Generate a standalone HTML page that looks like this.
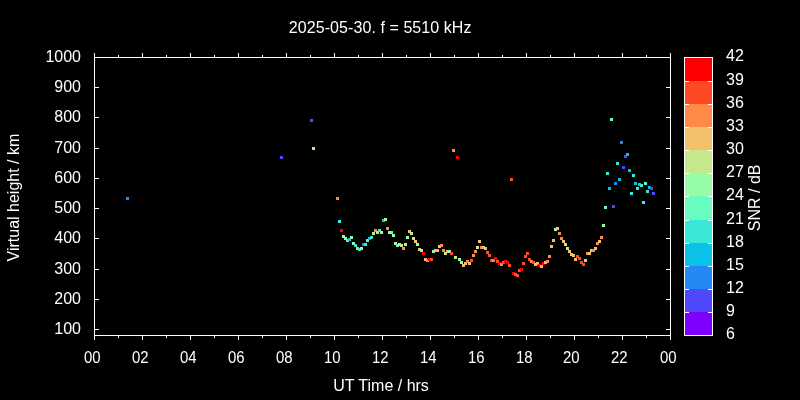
<!DOCTYPE html><html><head><meta charset="utf-8"><title>plot</title><style>html,body{margin:0;padding:0;background:#000;overflow:hidden}svg{display:block}text{font-family:"Liberation Sans",Arial,sans-serif;font-size:16px;fill:#fff}</style></head><body>
<svg width="800" height="400" viewBox="0 0 800 400">
<rect width="800" height="400" fill="#000"/>
<g fill="#fff" shape-rendering="crispEdges">
<rect x="94" y="57" width="577" height="1"/>
<rect x="94" y="335" width="577" height="1"/>
<rect x="94" y="57" width="1" height="279"/>
<rect x="670" y="57" width="1" height="279"/>
<rect x="94" y="53" width="1" height="4"/>
<rect x="94" y="336" width="1" height="4"/>
<rect x="118" y="55" width="1" height="2"/>
<rect x="118" y="336" width="1" height="2"/>
<rect x="142" y="53" width="1" height="4"/>
<rect x="142" y="336" width="1" height="4"/>
<rect x="166" y="55" width="1" height="2"/>
<rect x="166" y="336" width="1" height="2"/>
<rect x="190" y="53" width="1" height="4"/>
<rect x="190" y="336" width="1" height="4"/>
<rect x="214" y="55" width="1" height="2"/>
<rect x="214" y="336" width="1" height="2"/>
<rect x="238" y="53" width="1" height="4"/>
<rect x="238" y="336" width="1" height="4"/>
<rect x="262" y="55" width="1" height="2"/>
<rect x="262" y="336" width="1" height="2"/>
<rect x="286" y="53" width="1" height="4"/>
<rect x="286" y="336" width="1" height="4"/>
<rect x="310" y="55" width="1" height="2"/>
<rect x="310" y="336" width="1" height="2"/>
<rect x="334" y="53" width="1" height="4"/>
<rect x="334" y="336" width="1" height="4"/>
<rect x="358" y="55" width="1" height="2"/>
<rect x="358" y="336" width="1" height="2"/>
<rect x="382" y="53" width="1" height="4"/>
<rect x="382" y="336" width="1" height="4"/>
<rect x="406" y="55" width="1" height="2"/>
<rect x="406" y="336" width="1" height="2"/>
<rect x="430" y="53" width="1" height="4"/>
<rect x="430" y="336" width="1" height="4"/>
<rect x="454" y="55" width="1" height="2"/>
<rect x="454" y="336" width="1" height="2"/>
<rect x="478" y="53" width="1" height="4"/>
<rect x="478" y="336" width="1" height="4"/>
<rect x="502" y="55" width="1" height="2"/>
<rect x="502" y="336" width="1" height="2"/>
<rect x="526" y="53" width="1" height="4"/>
<rect x="526" y="336" width="1" height="4"/>
<rect x="550" y="55" width="1" height="2"/>
<rect x="550" y="336" width="1" height="2"/>
<rect x="574" y="53" width="1" height="4"/>
<rect x="574" y="336" width="1" height="4"/>
<rect x="598" y="55" width="1" height="2"/>
<rect x="598" y="336" width="1" height="2"/>
<rect x="622" y="53" width="1" height="4"/>
<rect x="622" y="336" width="1" height="4"/>
<rect x="646" y="55" width="1" height="2"/>
<rect x="646" y="336" width="1" height="2"/>
<rect x="670" y="53" width="1" height="4"/>
<rect x="670" y="336" width="1" height="4"/>
<rect x="95" y="329" width="4" height="1"/>
<rect x="666" y="329" width="4" height="1"/>
<rect x="95" y="299" width="4" height="1"/>
<rect x="666" y="299" width="4" height="1"/>
<rect x="95" y="269" width="4" height="1"/>
<rect x="666" y="269" width="4" height="1"/>
<rect x="95" y="238" width="4" height="1"/>
<rect x="666" y="238" width="4" height="1"/>
<rect x="95" y="208" width="4" height="1"/>
<rect x="666" y="208" width="4" height="1"/>
<rect x="95" y="178" width="4" height="1"/>
<rect x="666" y="178" width="4" height="1"/>
<rect x="95" y="148" width="4" height="1"/>
<rect x="666" y="148" width="4" height="1"/>
<rect x="95" y="117" width="4" height="1"/>
<rect x="666" y="117" width="4" height="1"/>
<rect x="95" y="87" width="4" height="1"/>
<rect x="666" y="87" width="4" height="1"/>
<rect x="95" y="57" width="4" height="1"/>
<rect x="666" y="57" width="4" height="1"/>
</g>
<g shape-rendering="crispEdges">
<rect x="684" y="312" width="28" height="24" fill="#8000ff"/>
<rect x="684" y="289" width="28" height="23" fill="#5148fc"/>
<rect x="684" y="266" width="28" height="23" fill="#238af5"/>
<rect x="684" y="243" width="28" height="23" fill="#0cc1e8"/>
<rect x="684" y="220" width="28" height="23" fill="#3ae8d7"/>
<rect x="684" y="196" width="28" height="24" fill="#68fcc1"/>
<rect x="684" y="173" width="28" height="23" fill="#97fca7"/>
<rect x="684" y="150" width="28" height="23" fill="#c5e88a"/>
<rect x="684" y="127" width="28" height="23" fill="#f3c16a"/>
<rect x="684" y="104" width="28" height="23" fill="#ff8a48"/>
<rect x="684" y="81" width="28" height="23" fill="#ff4824"/>
<rect x="684" y="57" width="28" height="24" fill="#ff0000"/>
<g fill="#fff">
<rect x="684" y="57" width="29" height="1"/>
<rect x="684" y="335" width="29" height="1"/>
<rect x="684" y="57" width="1" height="279"/>
<rect x="712" y="57" width="1" height="279"/>
<rect x="685" y="81" width="4" height="1"/>
<rect x="708" y="81" width="4" height="1"/>
<rect x="685" y="104" width="4" height="1"/>
<rect x="708" y="104" width="4" height="1"/>
<rect x="685" y="127" width="4" height="1"/>
<rect x="708" y="127" width="4" height="1"/>
<rect x="685" y="150" width="4" height="1"/>
<rect x="708" y="150" width="4" height="1"/>
<rect x="685" y="173" width="4" height="1"/>
<rect x="708" y="173" width="4" height="1"/>
<rect x="685" y="196" width="4" height="1"/>
<rect x="708" y="196" width="4" height="1"/>
<rect x="685" y="220" width="4" height="1"/>
<rect x="708" y="220" width="4" height="1"/>
<rect x="685" y="243" width="4" height="1"/>
<rect x="708" y="243" width="4" height="1"/>
<rect x="685" y="266" width="4" height="1"/>
<rect x="708" y="266" width="4" height="1"/>
<rect x="685" y="289" width="4" height="1"/>
<rect x="708" y="289" width="4" height="1"/>
<rect x="685" y="312" width="4" height="1"/>
<rect x="708" y="312" width="4" height="1"/>
</g></g>
<g shape-rendering="crispEdges">
<rect x="126" y="197" width="3" height="3" fill="#238af5"/>
<rect x="280" y="156" width="3" height="3" fill="#5148fc"/>
<rect x="310" y="119" width="3" height="3" fill="#5148fc"/>
<rect x="312" y="147" width="3" height="3" fill="#c5e88a"/>
<rect x="336" y="197" width="3" height="3" fill="#ff8a48"/>
<rect x="338" y="220" width="3" height="3" fill="#3ae8d7"/>
<rect x="340" y="229" width="3" height="3" fill="#ff0000"/>
<rect x="342" y="235" width="3" height="3" fill="#97fca7"/>
<rect x="344" y="237" width="3" height="3" fill="#97fca7"/>
<rect x="346" y="239" width="3" height="3" fill="#f3c16a"/>
<rect x="348" y="238" width="3" height="3" fill="#0cc1e8"/>
<rect x="350" y="236" width="3" height="3" fill="#97fca7"/>
<rect x="352" y="242" width="3" height="3" fill="#97fca7"/>
<rect x="354" y="244" width="3" height="3" fill="#3ae8d7"/>
<rect x="356" y="247" width="3" height="3" fill="#f3c16a"/>
<rect x="358" y="248" width="3" height="3" fill="#3ae8d7"/>
<rect x="360" y="247" width="3" height="3" fill="#97fca7"/>
<rect x="362" y="243" width="3" height="3" fill="#238af5"/>
<rect x="364" y="243" width="3" height="3" fill="#3ae8d7"/>
<rect x="366" y="239" width="3" height="3" fill="#68fcc1"/>
<rect x="368" y="237" width="3" height="3" fill="#0cc1e8"/>
<rect x="370" y="236" width="3" height="3" fill="#3ae8d7"/>
<rect x="372" y="232" width="3" height="3" fill="#c5e88a"/>
<rect x="374" y="229" width="3" height="3" fill="#ff8a48"/>
<rect x="376" y="231" width="3" height="3" fill="#97fca7"/>
<rect x="378" y="229" width="3" height="3" fill="#3ae8d7"/>
<rect x="380" y="231" width="3" height="3" fill="#c5e88a"/>
<rect x="382" y="219" width="3" height="3" fill="#0cc1e8"/>
<rect x="384" y="218" width="3" height="3" fill="#97fca7"/>
<rect x="386" y="227" width="3" height="3" fill="#ff8a48"/>
<rect x="388" y="231" width="3" height="3" fill="#97fca7"/>
<rect x="390" y="231" width="3" height="3" fill="#68fcc1"/>
<rect x="392" y="234" width="3" height="3" fill="#97fca7"/>
<rect x="394" y="242" width="3" height="3" fill="#c5e88a"/>
<rect x="396" y="244" width="3" height="3" fill="#68fcc1"/>
<rect x="398" y="243" width="3" height="3" fill="#97fca7"/>
<rect x="400" y="244" width="3" height="3" fill="#c5e88a"/>
<rect x="402" y="247" width="3" height="3" fill="#ff8a48"/>
<rect x="404" y="243" width="3" height="3" fill="#c5e88a"/>
<rect x="406" y="236" width="3" height="3" fill="#97fca7"/>
<rect x="408" y="230" width="3" height="3" fill="#f3c16a"/>
<rect x="410" y="232" width="3" height="3" fill="#c5e88a"/>
<rect x="412" y="237" width="3" height="3" fill="#c5e88a"/>
<rect x="414" y="240" width="3" height="3" fill="#f3c16a"/>
<rect x="416" y="243" width="3" height="3" fill="#97fca7"/>
<rect x="418" y="248" width="3" height="3" fill="#f3c16a"/>
<rect x="420" y="249" width="3" height="3" fill="#97fca7"/>
<rect x="422" y="252" width="3" height="3" fill="#ff0000"/>
<rect x="424" y="258" width="3" height="3" fill="#f3c16a"/>
<rect x="426" y="259" width="3" height="3" fill="#ff8a48"/>
<rect x="428" y="258" width="3" height="3" fill="#ff0000"/>
<rect x="430" y="258" width="3" height="3" fill="#ff4824"/>
<rect x="432" y="250" width="3" height="3" fill="#97fca7"/>
<rect x="434" y="249" width="3" height="3" fill="#f3c16a"/>
<rect x="436" y="249" width="3" height="3" fill="#f3c16a"/>
<rect x="438" y="245" width="3" height="3" fill="#f3c16a"/>
<rect x="440" y="244" width="3" height="3" fill="#ff8a48"/>
<rect x="442" y="249" width="3" height="3" fill="#ff8a48"/>
<rect x="444" y="252" width="3" height="3" fill="#c5e88a"/>
<rect x="446" y="250" width="3" height="3" fill="#f3c16a"/>
<rect x="448" y="250" width="3" height="3" fill="#97fca7"/>
<rect x="450" y="252" width="3" height="3" fill="#ff4824"/>
<rect x="452" y="149" width="3" height="3" fill="#ff8a48"/>
<rect x="454" y="256" width="3" height="3" fill="#c5e88a"/>
<rect x="456" y="156" width="3" height="3" fill="#ff0000"/>
<rect x="458" y="258" width="3" height="3" fill="#97fca7"/>
<rect x="460" y="261" width="3" height="3" fill="#97fca7"/>
<rect x="462" y="264" width="3" height="3" fill="#f3c16a"/>
<rect x="464" y="262" width="3" height="3" fill="#f3c16a"/>
<rect x="466" y="260" width="3" height="3" fill="#ff8a48"/>
<rect x="468" y="262" width="3" height="3" fill="#f3c16a"/>
<rect x="470" y="259" width="3" height="3" fill="#ff4824"/>
<rect x="472" y="254" width="3" height="3" fill="#ff8a48"/>
<rect x="474" y="250" width="3" height="3" fill="#ff8a48"/>
<rect x="476" y="246" width="3" height="3" fill="#c5e88a"/>
<rect x="478" y="240" width="3" height="3" fill="#f3c16a"/>
<rect x="480" y="246" width="3" height="3" fill="#ff8a48"/>
<rect x="482" y="246" width="3" height="3" fill="#f3c16a"/>
<rect x="484" y="247" width="3" height="3" fill="#f3c16a"/>
<rect x="486" y="251" width="3" height="3" fill="#ff4824"/>
<rect x="488" y="254" width="3" height="3" fill="#ff4824"/>
<rect x="490" y="259" width="3" height="3" fill="#ff4824"/>
<rect x="492" y="259" width="3" height="3" fill="#ff8a48"/>
<rect x="494" y="257" width="3" height="3" fill="#ff0000"/>
<rect x="496" y="260" width="3" height="3" fill="#ff4824"/>
<rect x="498" y="262" width="3" height="3" fill="#ff0000"/>
<rect x="500" y="263" width="3" height="3" fill="#ff8a48"/>
<rect x="502" y="261" width="3" height="3" fill="#ff4824"/>
<rect x="504" y="260" width="3" height="3" fill="#ff0000"/>
<rect x="506" y="261" width="3" height="3" fill="#ff0000"/>
<rect x="508" y="264" width="3" height="3" fill="#ff4824"/>
<rect x="510" y="178" width="3" height="3" fill="#ff4824"/>
<rect x="512" y="272" width="3" height="3" fill="#ff0000"/>
<rect x="514" y="273" width="3" height="3" fill="#ff4824"/>
<rect x="516" y="274" width="3" height="3" fill="#ff4824"/>
<rect x="518" y="269" width="3" height="3" fill="#ff4824"/>
<rect x="520" y="268" width="3" height="3" fill="#ff0000"/>
<rect x="522" y="262" width="3" height="3" fill="#ff4824"/>
<rect x="524" y="255" width="3" height="3" fill="#ff4824"/>
<rect x="526" y="252" width="3" height="3" fill="#ff4824"/>
<rect x="528" y="258" width="3" height="3" fill="#ff4824"/>
<rect x="530" y="260" width="3" height="3" fill="#ff8a48"/>
<rect x="532" y="261" width="3" height="3" fill="#ff4824"/>
<rect x="534" y="263" width="3" height="3" fill="#f3c16a"/>
<rect x="536" y="262" width="3" height="3" fill="#f3c16a"/>
<rect x="538" y="264" width="3" height="3" fill="#ff0000"/>
<rect x="540" y="265" width="3" height="3" fill="#f3c16a"/>
<rect x="542" y="262" width="3" height="3" fill="#ff0000"/>
<rect x="544" y="261" width="3" height="3" fill="#f3c16a"/>
<rect x="546" y="260" width="3" height="3" fill="#ff8a48"/>
<rect x="548" y="255" width="3" height="3" fill="#ff8a48"/>
<rect x="550" y="245" width="3" height="3" fill="#f3c16a"/>
<rect x="552" y="239" width="3" height="3" fill="#f3c16a"/>
<rect x="554" y="228" width="3" height="3" fill="#97fca7"/>
<rect x="556" y="227" width="3" height="3" fill="#f3c16a"/>
<rect x="558" y="232" width="3" height="3" fill="#ff8a48"/>
<rect x="560" y="237" width="3" height="3" fill="#ff8a48"/>
<rect x="562" y="240" width="3" height="3" fill="#f3c16a"/>
<rect x="564" y="243" width="3" height="3" fill="#c5e88a"/>
<rect x="566" y="247" width="3" height="3" fill="#c5e88a"/>
<rect x="568" y="250" width="3" height="3" fill="#f3c16a"/>
<rect x="570" y="253" width="3" height="3" fill="#f3c16a"/>
<rect x="572" y="254" width="3" height="3" fill="#f3c16a"/>
<rect x="574" y="258" width="3" height="3" fill="#f3c16a"/>
<rect x="576" y="255" width="3" height="3" fill="#ff4824"/>
<rect x="578" y="257" width="3" height="3" fill="#ff4824"/>
<rect x="580" y="261" width="3" height="3" fill="#ff4824"/>
<rect x="582" y="263" width="3" height="3" fill="#ff4824"/>
<rect x="584" y="259" width="3" height="3" fill="#f3c16a"/>
<rect x="586" y="252" width="3" height="3" fill="#ff8a48"/>
<rect x="588" y="252" width="3" height="3" fill="#f3c16a"/>
<rect x="590" y="249" width="3" height="3" fill="#f3c16a"/>
<rect x="592" y="249" width="3" height="3" fill="#ff8a48"/>
<rect x="594" y="247" width="3" height="3" fill="#f3c16a"/>
<rect x="596" y="242" width="3" height="3" fill="#ff8a48"/>
<rect x="598" y="240" width="3" height="3" fill="#f3c16a"/>
<rect x="600" y="236" width="3" height="3" fill="#ff8a48"/>
<rect x="602" y="224" width="3" height="3" fill="#97fca7"/>
<rect x="604" y="206" width="3" height="3" fill="#68fcc1"/>
<rect x="606" y="172" width="3" height="3" fill="#3ae8d7"/>
<rect x="608" y="187" width="3" height="3" fill="#0cc1e8"/>
<rect x="610" y="118" width="3" height="3" fill="#68fcc1"/>
<rect x="612" y="205" width="3" height="3" fill="#5148fc"/>
<rect x="614" y="182" width="3" height="3" fill="#238af5"/>
<rect x="616" y="162" width="3" height="3" fill="#3ae8d7"/>
<rect x="618" y="178" width="3" height="3" fill="#0cc1e8"/>
<rect x="620" y="141" width="3" height="3" fill="#238af5"/>
<rect x="622" y="166" width="3" height="3" fill="#5148fc"/>
<rect x="624" y="155" width="3" height="3" fill="#5148fc"/>
<rect x="626" y="153" width="3" height="3" fill="#0cc1e8"/>
<rect x="628" y="169" width="3" height="3" fill="#0cc1e8"/>
<rect x="630" y="192" width="3" height="3" fill="#3ae8d7"/>
<rect x="632" y="174" width="3" height="3" fill="#3ae8d7"/>
<rect x="634" y="182" width="3" height="3" fill="#0cc1e8"/>
<rect x="636" y="187" width="3" height="3" fill="#3ae8d7"/>
<rect x="638" y="183" width="3" height="3" fill="#0cc1e8"/>
<rect x="640" y="184" width="3" height="3" fill="#3ae8d7"/>
<rect x="642" y="201" width="3" height="3" fill="#3ae8d7"/>
<rect x="644" y="182" width="3" height="3" fill="#68fcc1"/>
<rect x="646" y="190" width="3" height="3" fill="#3ae8d7"/>
<rect x="648" y="186" width="3" height="3" fill="#0cc1e8"/>
<rect x="650" y="187" width="3" height="3" fill="#5148fc"/>
<rect x="652" y="192" width="3" height="3" fill="#5148fc"/>
</g>
<text x="380.2" y="32.5" text-anchor="middle" letter-spacing="0.07">2025-05-30. f = 5510 kHz</text>
<text x="81" y="334" text-anchor="end">100</text>
<text x="81" y="304" text-anchor="end">200</text>
<text x="81" y="274" text-anchor="end">300</text>
<text x="81" y="243" text-anchor="end">400</text>
<text x="81" y="213" text-anchor="end">500</text>
<text x="81" y="183" text-anchor="end">600</text>
<text x="81" y="153" text-anchor="end">700</text>
<text x="81" y="122" text-anchor="end">800</text>
<text x="81" y="92" text-anchor="end">900</text>
<text x="81" y="62" text-anchor="end">1000</text>
<text transform="translate(92.3,363) scale(0.935,1)" text-anchor="middle">00</text>
<text transform="translate(140.3,363) scale(0.935,1)" text-anchor="middle">02</text>
<text transform="translate(188.3,363) scale(0.935,1)" text-anchor="middle">04</text>
<text transform="translate(236.3,363) scale(0.935,1)" text-anchor="middle">06</text>
<text transform="translate(284.3,363) scale(0.935,1)" text-anchor="middle">08</text>
<text transform="translate(332.3,363) scale(0.935,1)" text-anchor="middle">10</text>
<text transform="translate(380.3,363) scale(0.935,1)" text-anchor="middle">12</text>
<text transform="translate(428.3,363) scale(0.935,1)" text-anchor="middle">14</text>
<text transform="translate(476.3,363) scale(0.935,1)" text-anchor="middle">16</text>
<text transform="translate(524.3,363) scale(0.935,1)" text-anchor="middle">18</text>
<text transform="translate(571.3,363) scale(0.935,1)" text-anchor="middle">20</text>
<text transform="translate(619.3,363) scale(0.935,1)" text-anchor="middle">22</text>
<text transform="translate(668.3,363) scale(0.935,1)" text-anchor="middle">00</text>
<text x="726" y="61">42</text>
<text x="726" y="85">39</text>
<text x="726" y="108">36</text>
<text x="726" y="131">33</text>
<text x="726" y="154">30</text>
<text x="726" y="177">27</text>
<text x="726" y="200">24</text>
<text x="726" y="224">21</text>
<text x="726" y="247">18</text>
<text x="726" y="270">15</text>
<text x="726" y="293">12</text>
<text x="726" y="316">9</text>
<text x="726" y="339">6</text>
<text x="381" y="390.5" text-anchor="middle">UT Time / hrs</text>
<text transform="translate(19,197.6) rotate(-90)" text-anchor="middle">Virtual height / km</text>
<text transform="translate(760,197.8) rotate(-90)" text-anchor="middle">SNR / dB</text>
</svg></body></html>
